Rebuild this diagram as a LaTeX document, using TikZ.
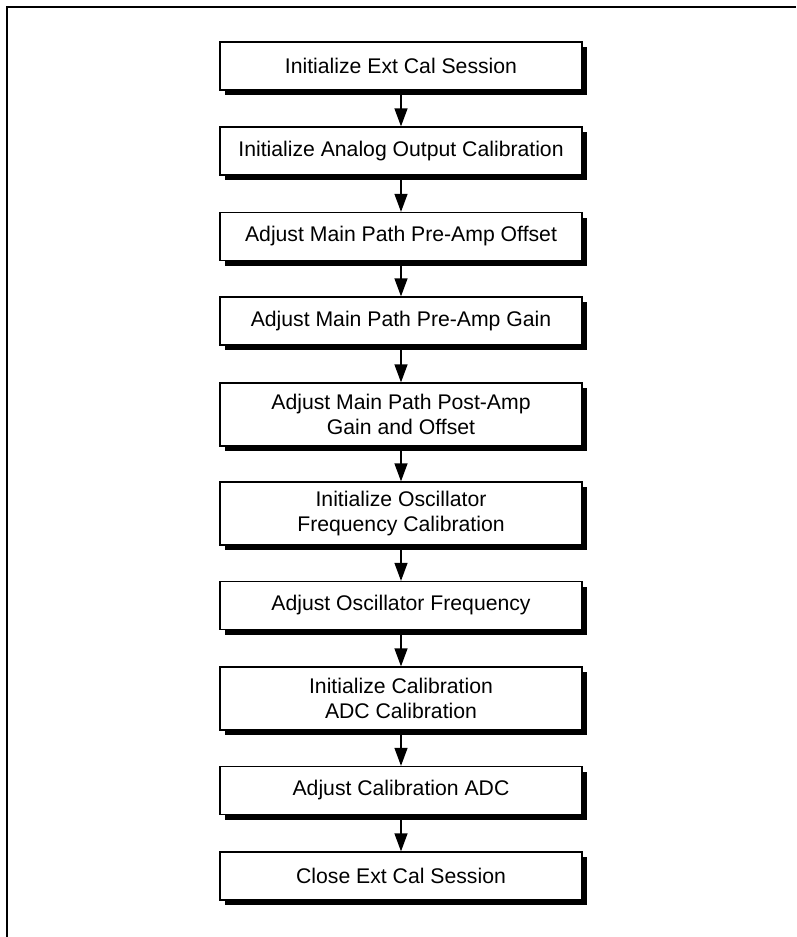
\documentclass[tikz,border=0pt]{standalone}
\usepackage{fontspec}
\setmainfont{Liberation Sans}
\usetikzlibrary{arrows.meta,shadows}
\begin{document}
\begin{tikzpicture}[x=1pt,y=-1pt,
  stepbox/.style={rectangle, draw=black, line width=1.3pt, fill=white,
    minimum width=362pt, inner sep=0pt, align=center,
    font=\fontsize{21.2}{25.5}\selectfont,
    general shadow={fill=black, shadow xshift=5pt, shadow yshift=-5pt}},
  onebox/.style={stepbox, minimum height=48pt},
  twobox/.style={stepbox, minimum height=63pt},
  flow/.style={line width=1.3pt, -{Triangle[length=18pt,width=13pt]}}]
\useasboundingbox (0,0) rectangle (796,937);
\draw[line width=2.6pt] (7,937) -- (7,7) -- (796,7);
\node[onebox] (b1) at (401,66) {Initialize Ext Cal Session};
\node[onebox] (b2) at (401,151) {Initialize Analog Output Calibration};
\node[onebox] (b3) at (401,236.5) {Adjust Main Path Pre-Amp Offset};
\node[onebox] (b4) at (401,321) {Adjust Main Path Pre-Amp Gain};
\node[twobox] (b5) at (401,414.5) {Adjust Main Path Post-Amp\\Gain and Offset};
\node[twobox] (b6) at (401,513.5) {Initialize Oscillator\\Frequency Calibration};
\node[onebox] (b7) at (401,605.5) {Adjust Oscillator Frequency};
\node[twobox] (b8) at (401,698.5) {Initialize Calibration\\ADC Calibration};
\node[onebox] (b9) at (401,790.5) {Adjust Calibration ADC};
\node[onebox] (b10) at (401,876) {Close Ext Cal Session};
\foreach \a/\b in {b1/b2,b2/b3,b3/b4,b4/b5,b5/b6,b6/b7,b7/b8,b8/b9,b9/b10}
  \draw[flow] (\a.south) -- (\b.north);
\end{tikzpicture}
\end{document}
